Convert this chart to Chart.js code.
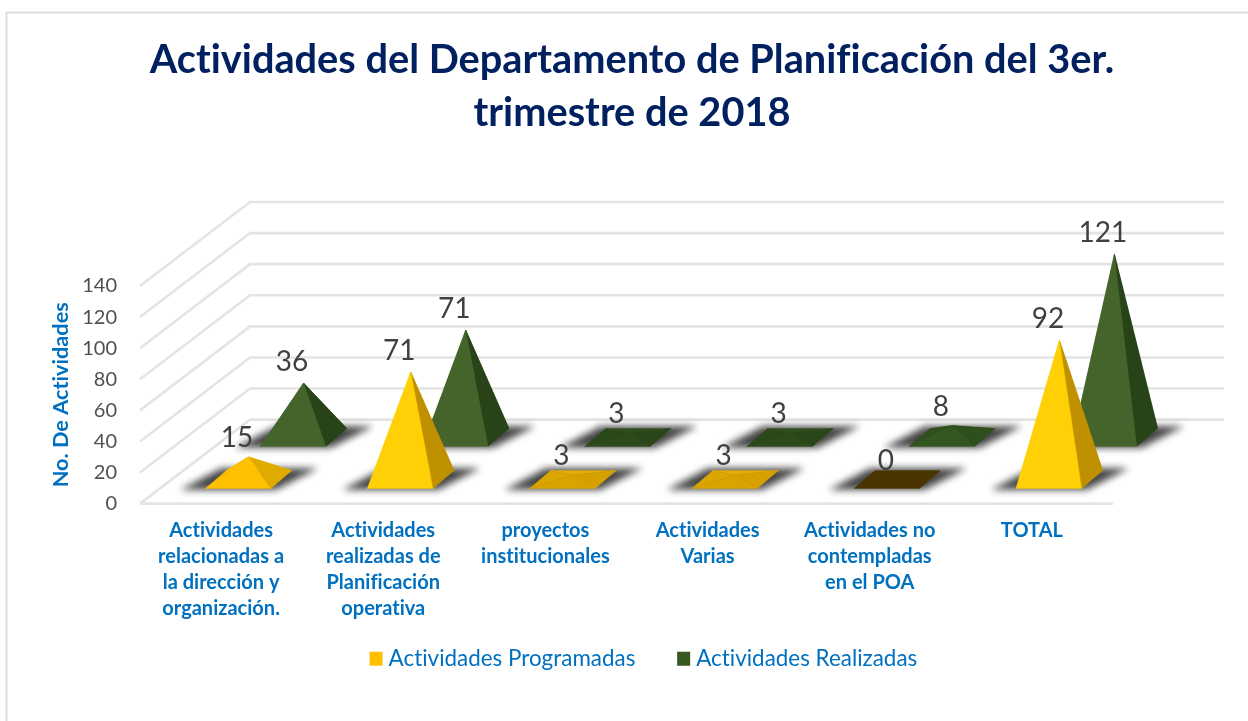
<!DOCTYPE html>
<html><head><meta charset="utf-8">
<style>html,body{margin:0;padding:0;background:#fff}#w{width:1248px;height:721px;position:relative}</style>
<script src="https://cdn.jsdelivr.net/npm/chart.js@4"></script>
</head><body><div id="w"><canvas id="c" width="1248" height="721"></canvas></div>
<script>
const categories = [
  ["Actividades","relacionadas a","la dirección y","organización."],
  ["Actividades","realizadas de","Planificación","operativa"],
  ["proyectos","institucionales"],
  ["Actividades","Varias"],
  ["Actividades no","contempladas","en el POA"],
  ["TOTAL"]
];
const programadas = [15, 71, 3, 3, 0, 92];
const realizadas  = [36, 71, 3, 3, 8, 121];
const yTickMax = 140, yTickStep = 20;
const titleLines = ["Actividades del Departamento de Planificación del 3er.","trimestre de 2018"];
const yAxisTitle = "No. De Actividades";
const seriesNames = ["Actividades Programadas","Actividades Realizadas"];

const FONT = "Lato, Carlito, Calibri, sans-serif";
const BLUE = "#0070c0";
const DEPTH_X = 110, DEPTH_Y = 84;      // floor depth of the 3D box
const HEIGHT_K = 0.975;

const yellowFaces = v => v === 0 ? {f:"#4a3500",r:"#4a3500",b:"#4a3500",l:"#4a3500"}
  : v < 8  ? {f:"#daa400",r:"#d6a000",b:"#e2ad08",l:"#dca600"}
  : v < 30 ? {f:"#ffc000",r:"#e0ab00",b:"#e0ab00",l:"#ffc000"}
  : {f:"#ffd006",r:"#bf9000",b:"#bf9000",l:"#ffd006"};
const greenFaces = v => v === 0 ? {f:"#243c14",r:"#243c14",b:"#243c14",l:"#243c14"}
  : v < 5  ? {f:"#2d4a1b",r:"#2a4619",b:"#2f4e1d",l:"#2b4819"}
  : v < 20 ? {f:"#345620",r:"#2e4e1b",b:"#3a5e24",l:"#2f4f1c"}
  : {f:"#44642c",r:"#274317",b:"#274317",l:"#44642c"};

function poly(ctx, pts, fill){
  ctx.beginPath();
  pts.forEach((p,i)=> i ? ctx.lineTo(p[0],p[1]) : ctx.moveTo(p[0],p[1]));
  ctx.closePath();
  ctx.fillStyle = fill; ctx.strokeStyle = fill; ctx.lineWidth = 0.4;
  ctx.fill(); ctx.stroke();
}
function geom(el, value, depth){
  const cx = el.x + DEPTH_X*depth;
  const cy = el.base - DEPTH_Y*depth - 3;
  const h = (el.base - el.y) * HEIGHT_K;
  return {cx, cy, h, apex:[cx, cy-h]};
}

class Pyramid3D extends Chart.BarController {
  draw(){
    const ctx = this.chart.ctx, meta = this._cachedMeta, ds = this.getDataset();
    const faces = ds.faceFn, depth = ds.depthPos;
    const hd = 9, sk = 10.5;
    ctx.save();
    meta.data.forEach((el,i)=>{
      const g = geom(el, ds.data[i], depth), hw = el.width/2;
      const {cx,cy} = g;
      ctx.save();
      ctx.filter = "blur(3.5px)";
      poly(ctx, [[cx-hw-sk-24,cy+hd+1],[cx+hw-sk+5,cy+hd+1],[cx+hw+sk+25,cy-hd-2],[cx-hw+sk-5,cy-hd-2]], "#444444");
      ctx.restore();
    });
    meta.data.forEach((el,i)=>{
      const v = ds.data[i], g = geom(el, v, depth), hw = el.width/2, c = faces(v);
      const {cx,cy,apex} = g;
      const FL=[cx-hw-sk,cy+hd], FR=[cx+hw-sk,cy+hd], BR=[cx+hw+sk,cy-hd], BL=[cx-hw+sk,cy-hd];
      if (v === 0){ poly(ctx,[FL,FR,BR,BL],c.f); return; }
      poly(ctx,[BL,BR,apex],c.b);
      poly(ctx,[FL,BL,apex],c.l);
      poly(ctx,[FR,BR,apex],c.r);
      poly(ctx,[FL,FR,apex],c.f);
    });
    ctx.restore();
  }
}
Pyramid3D.id = "pyramid3d";
Pyramid3D.defaults = Chart.BarController.defaults;
Chart.register(Pyramid3D);

const box3d = {
  id:"box3d",
  beforeUpdate(chart){ chart.ctx.letterSpacing = "0.01px"; },
  beforeDraw(chart){ chart.ctx.letterSpacing = "0.01px"; },
  afterLayout(chart){
    const t = chart.titleBlock; t.right += 135;
    const l = chart.legend; l.left += 81.5; l.right += 81.5; l.top -= 41; l.bottom -= 41;
  },
  beforeDatasetsDraw(chart){
    const {ctx, chartArea:a, scales:{y}} = chart;
    ctx.save();
    ctx.strokeStyle="#dedede"; ctx.lineWidth=2;
    ctx.beginPath(); ctx.moveTo(6.5,721); ctx.lineTo(6.5,12.5); ctx.lineTo(1248,12.5); ctx.stroke();
    ctx.strokeStyle="#e4e4e4"; ctx.lineWidth=2.6; ctx.lineCap="butt";
    y.ticks.forEach(t=>{
      const p = y.getPixelForValue(t.value);
      ctx.beginPath();
      ctx.moveTo(a.left, p);
      ctx.lineTo(a.left+DEPTH_X, p-DEPTH_Y);
      ctx.lineTo(a.right+DEPTH_X+1, p-DEPTH_Y);
      ctx.stroke();
    });
    const p0 = y.getPixelForValue(0);
    ctx.beginPath(); ctx.moveTo(a.left,p0); ctx.lineTo(a.right,p0); ctx.stroke();
    ctx.restore();
  },
  afterDatasetsDraw(chart){
    const ctx = chart.ctx;
    ctx.save();
    ctx.font = "28px "+FONT; ctx.fillStyle="#404040"; ctx.textAlign="center"; ctx.textBaseline="middle";
    chart.data.datasets.forEach((ds,d)=>{
      chart.getDatasetMeta(d).data.forEach((el,i)=>{
        const g = geom(el, ds.data[i], ds.depthPos);
        const off = g.h < 30 ? 19 : 21;
        ctx.fillText(String(ds.data[i]), g.cx-11.5, g.apex[1]-off);
      });
    });
    ctx.restore();
  }
};

new Chart(document.getElementById("c"),{
  type:"pyramid3d",
  data:{labels:categories,datasets:[
    {label:seriesNames[0],data:programadas,backgroundColor:"#ffc000",borderColor:"#ffc000",borderWidth:10.4,depthPos:0.25,faceFn:yellowFaces,barPercentage:1,categoryPercentage:0.404,grouped:false,clip:false},
    {label:seriesNames[1],data:realizadas,backgroundColor:"#385723",borderColor:"#385723",borderWidth:10.4,depthPos:0.75,faceFn:greenFaces,barPercentage:1,categoryPercentage:0.404,grouped:false,clip:false}
  ]},
  plugins:[box3d],
  options:{
    responsive:false,animation:false,
    layout:{padding:{left:16,right:135,top:0,bottom:0}},
    plugins:{
      title:{display:true,text:titleLines,color:"#002060",font:{family:FONT,size:39.7,weight:"bold",lineHeight:53/39.7},padding:{top:34,bottom:146}},
      legend:{position:"bottom",labels:{color:BLUE,font:{family:FONT,size:22.4},boxWidth:2.6,boxHeight:3.6,padding:47}},
      tooltip:{enabled:false}
    },
    scales:{
      x:{grid:{display:false},border:{display:false},
        ticks:{color:BLUE,font:{family:FONT,size:20,weight:"bold",lineHeight:26/20},padding:6,maxRotation:0,minRotation:0,autoSkip:false},
        afterFit(s){s.height=138;}},
      y:{min:0,max:yTickMax,grid:{display:false},border:{display:false},
        ticks:{stepSize:yTickStep,color:"#505050",font:{family:FONT,size:20},padding:15},
        title:{display:true,text:yAxisTitle,color:BLUE,font:{family:FONT,size:21.7,weight:"bold"},padding:{top:32,bottom:0}},
        afterFit(s){s.width=124;}}
    }
  }
});
</script></body></html>
